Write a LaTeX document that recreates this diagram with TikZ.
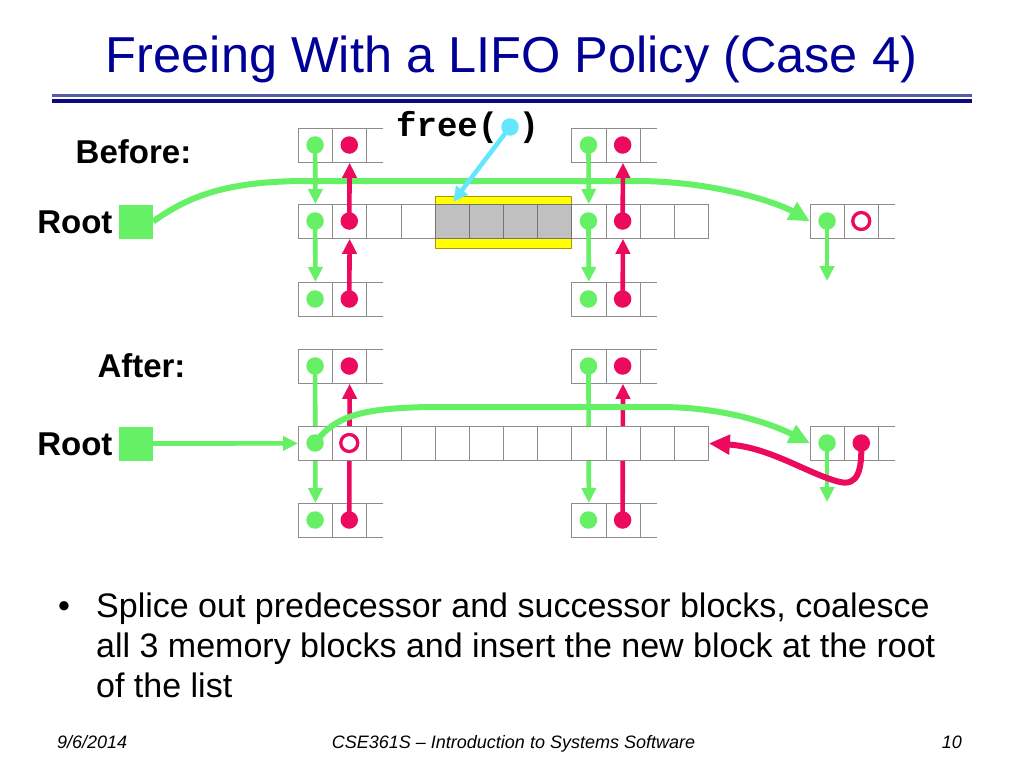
\documentclass[tikz,border=0pt]{standalone}
\usepackage{fontspec}
\setmainfont{Liberation Sans}
\newfontfamily\monob{Liberation Mono}
\usetikzlibrary{arrows.meta}
\definecolor{gr}{RGB}{102,240,102}
\definecolor{rd}{RGB}{236,10,95}
\definecolor{cy}{RGB}{100,230,255}
\definecolor{navy}{RGB}{0,0,150}
\definecolor{navyrule}{RGB}{10,10,130}
\definecolor{rulelight}{RGB}{90,90,170}
\definecolor{cellc}{RGB}{140,140,140}
\definecolor{ylw}{RGB}{255,255,0}
\definecolor{ylwb}{RGB}{175,145,20}
\definecolor{grayc}{RGB}{192,192,192}
\newcommand\tblk[3]{%
  \node[cellnode] (#10) at (#2,#3) {};
  \node[cellnode] (#11) at (#2+34.17,#3) {};
  \draw[cellline] (#2+68.34,#3) -- ++(17,0) (#2+68.34,#3+34) -- ++(17,0);}
\begin{document}
\begin{tikzpicture}[x=1pt,y=-1pt,
  cellnode/.style={rectangle,anchor=north west,minimum width=34.17pt,minimum height=34pt,inner sep=0pt,draw=cellc,line width=0.8pt,fill=white},
  graycell/.style={cellnode,fill=grayc,draw=black!55},
  cellline/.style={draw=cellc,line width=0.8pt},
  gdot/.style={circle,fill=gr,inner sep=0pt,minimum size=17.5pt},
  rdot/.style={circle,fill=rd,inner sep=0pt,minimum size=17.5pt},
  cdot/.style={circle,fill=cy,inner sep=0pt,minimum size=17.5pt},
  rring/.style={circle,draw=rd,line width=3.3pt,fill=white,inner sep=0pt,minimum size=17pt},
  garr/.style={draw=gr,line width=4.6pt,-{Triangle[length=15pt,width=14pt]}},
  rarr/.style={draw=rd,line width=4.6pt,-{Triangle[length=15pt,width=14pt]}},
  carr/.style={draw=cy,line width=4.6pt,-{Triangle[length=15pt,width=14pt]}},
  gcurve/.style={draw=gr,line width=6pt,-{Triangle[length=21pt,width=19pt]}},
  rcurve/.style={draw=rd,line width=6pt,-{Triangle[length=21pt,width=19pt]}},
  rootsq/.style={fill=gr,minimum size=34pt,inner sep=0pt},
  lbl/.style={font=\fontsize{33}{36}\selectfont\bfseries},
  body/.style={anchor=base west,font=\fontsize{34}{40}\selectfont,inner sep=0pt},
  foot/.style={anchor=base,font=\fontsize{18}{20}\selectfont\itshape,inner sep=0pt},
]
\useasboundingbox (0,0) rectangle (1024,768);
\fill[white] (0,0) rectangle (1024,768);

% title
\node[anchor=base,inner sep=0pt,text=navy,font=\fontsize{50.5}{56}\selectfont] (title) at (511.5,72) {Freeing With a LIFO Policy (Case 4)};
\draw[rulelight,line width=2.5pt] (52,95.5) -- (972,95.5);
\draw[navyrule,line width=4pt] (52,100.5) -- (972,100.5);

% ================= BEFORE =================
\node[lbl] (before) at (133.5,152) {Before:};
\node[lbl,anchor=east] (rootBl) at (116,222) {Root};
\node[rootsq] (rootB) at (136,221.5) {};

\tblk{btl}{298}{128}
\tblk{btr}{571.36}{128}
\tblk{bbl}{298}{282}
\tblk{bbr}{571.36}{282}
\tblk{bfr}{810}{204}
\foreach \i in {0,1,2,3,8,9,10,11}
  \node[cellnode] (bm\i) at (298+\i*34.17,204) {};
\node[rectangle,anchor=north west,minimum width=136.68pt,minimum height=52pt,inner sep=0pt,fill=ylw,draw=ylwb,line width=1pt] (freeblk) at (434.68,196) {};
\foreach \i in {4,...,7}
  \node[graycell] (bm\i) at (298+\i*34.17,204) {};

\node[gdot] (bT1g) at (315.08,145) {};
\node[rdot] (bT1r) at (349.25,145) {};
\node[gdot] (bT2g) at (588.44,145) {};
\node[rdot] (bT2r) at (622.61,145) {};
\node[gdot] (bM1g) at (315.08,221) {};
\node[rdot] (bM1r) at (349.25,221) {};
\node[gdot] (bM2g) at (588.44,221) {};
\node[rdot] (bM2r) at (622.61,221) {};
\node[gdot] (bB1g) at (315.08,299) {};
\node[rdot] (bB1r) at (349.25,299) {};
\node[gdot] (bB2g) at (588.44,299) {};
\node[rdot] (bB2r) at (622.61,299) {};
\node[gdot] (bRg) at (827.08,221) {};
\node[rring] (bRr) at (861.25,221) {};
\coordinate (bRtip) at (827.08,281);

% root curve
\draw[gcurve] (rootB.east) .. controls (190,195) and (228,182) .. (300,181)
   -- (640,181) .. controls (720,182) and (780,204) .. (bfr0.west);

\draw[garr] (bT1g.center) -- (bm0.north);
\draw[rarr] (bM1r.center) -- (btl1.south);
\draw[garr] (bM1g.center) -- (bbl0.north);
\draw[rarr] (bB1r.center) -- (bm1.south);
\draw[garr] (bT2g.center) -- (bm8.north);
\draw[rarr] (bM2r.center) -- (btr1.south);
\draw[garr] (bM2g.center) -- (bbr0.north);
\draw[rarr] (bB2r.center) -- (bm9.south);
\draw[garr] (bRg.center) -- (bRtip);

% free( )
\node[anchor=base west,inner sep=0pt,font=\monob\bfseries\fontsize{34}{36}\selectfont] (freetxt) at (396,136) {free(\ )};
\node[cdot] (cd) at (510,127) {};
\coordinate (freetip) at (453,202);
\draw[carr] (cd.center) -- (freetip);

% ================= AFTER =================
\node[lbl] (after) at (141.5,366) {After:};
\node[lbl,anchor=east] (rootAl) at (116,444) {Root};
\node[rootsq] (rootA) at (136,443.5) {};

\tblk{atl}{298}{349}
\tblk{atr}{571.36}{349}
\tblk{abl}{298}{503}
\tblk{abr}{571.36}{503}
\tblk{afr}{810}{426}

\node[gdot] (aT1g) at (315.08,366) {};
\node[rdot] (aT1r) at (349.25,366) {};
\node[gdot] (aT2g) at (588.44,366) {};
\node[rdot] (aT2r) at (622.61,366) {};
\node[gdot] (aB1g) at (315.08,520) {};
\node[rdot] (aB1r) at (349.25,520) {};
\node[gdot] (aB2g) at (588.44,520) {};
\node[rdot] (aB2r) at (622.61,520) {};

\draw[garr] (aT1g.center) -- (abl0.north);
\draw[rarr] (aB1r.center) -- (atl1.south);
\draw[garr] (aT2g.center) -- (abr0.north);
\draw[rarr] (aB2r.center) -- (atr1.south);

\foreach \i in {0,...,11}
  \node[cellnode] (am\i) at (298+\i*34.17,426) {};

\node[gdot] (aMg) at (315.08,443) {};
\node[rring] (aMr) at (349.25,443) {};
\node[gdot] (aRg) at (827.08,443) {};
\node[rdot] (aRr) at (861.25,443) {};
\coordinate (aRtip) at (827.08,502);
\draw[garr] (aRg.center) -- (aRtip);

\draw[garr] (rootA.east) -- (am0.west);
\draw[gcurve] (aMg.center) .. controls (335,415) and (365,408) .. (430,407)
   -- (660,407) .. controls (730,407) and (778,427) .. (afr0.west);
\draw[rcurve] (aRr.center) .. controls (862,470) and (858,486) .. (840,482)
   .. controls (810,475) and (770,447) .. (am11.east);

% ================= TEXT =================
\node[anchor=base,inner sep=0pt,font=\fontsize{34}{40}\selectfont] (bul) at (64,617) {•};
\node[body] (t1) at (96,617) {Splice out predecessor and successor blocks, coalesce};
\node[body] (t2) at (96,657) {all 3 memory blocks and insert the new block at the root};
\node[body] (t3) at (96,697) {of the list};

\node[foot,anchor=base west] (f1) at (57,748) {9/6/2014};
\node[foot] (f2) at (513.5,748) {CSE361S – Introduction to Systems Software};
\node[foot,anchor=base east] (f3) at (962,748) {10};
\end{tikzpicture}
\end{document}
